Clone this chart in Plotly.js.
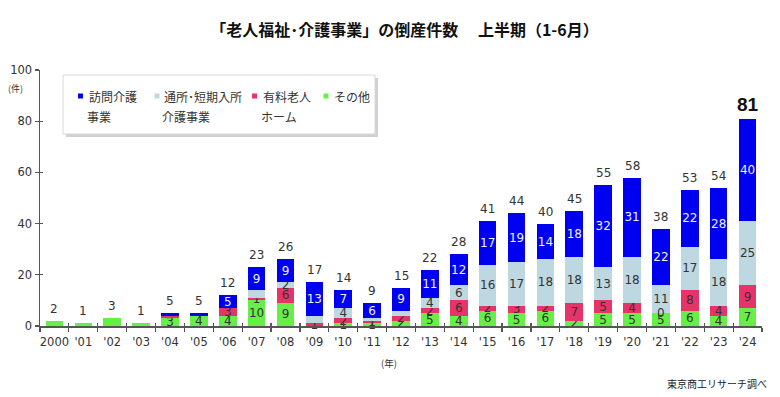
<!DOCTYPE html>
<html><head><meta charset="utf-8">
<script src="https://cdn.plot.ly/plotly-3.0.1.min.js"></script>
<style>html,body{margin:0;padding:0;background:#fff}#chart{width:780px;height:397px}</style>
</head><body><div id="chart"></div>
<script>
// ---- data ----
const years = ['2000',"'01","'02","'03","'04","'05","'06","'07","'08","'09","'10","'11","'12","'13","'14","'15","'16","'17","'18","'19","'20","'21","'22","'23","'24"];
const homeCare    = [0,0,0,0,1,1,5,9,9,13,7,6,9,11,12,17,19,14,18,32,31,22,22,28,40]; // 訪問介護事業
const dayCare     = [0,0,0,0,0,0,0,3,2,3,4,1,2,4,6,16,17,18,18,13,18,11,17,18,25]; // 通所・短期入所介護事業
const nursingHome = [0,0,0,0,1,0,3,1,6,1,2,1,2,2,6,2,3,2,7,5,4,0,8,4,9];            // 有料老人ホーム
const others      = [2,1,3,1,3,4,4,10,9,0,1,1,2,5,4,6,5,6,2,5,5,5,6,4,7];           // その他
const seriesNames = ['訪問介護<br>事業','通所･短期入所<br>介護事業','有料老人<br>ホーム','その他'];
// segment labels that are not printed in the original
const homeCareHide = [4,5];
const dayCareHide = [7,9,11,12];
const nursingHide = [4];
const othersHide = [0,1,2,3];
const nursingZeroShown = [21];

// ---- geometry helpers (paper coords from pixels) ----
const M = {l:40, r:18, t:70, b:71};
const W = 780 - M.l - M.r, H = 397 - M.t - M.b;
const PX = p => (p - M.l) / W;
const PY = p => (397 - M.b - p) / H;

function labels(vals, hide){
  return vals.map((v,i) => (v > 0 && hide.indexOf(i) < 0) ? String(v) : '');
}

const colors = {home:'#0000f0', day:'#bed8e2', nurse:'#e6336a', other:'#68ee48'};
const dark = '#333333';
const numFont = 'DejaVu Sans, Verdana, sans-serif';
const jpFont = 'Noto Sans CJK JP, sans-serif';

function barTrace(vals, name, color, hide, txtColor){
  return {
    type:'bar', x:years, y:vals, name:name,
    marker:{color:color, line:{width:0}},
    text:labels(vals, hide), textposition:'inside', insidetextanchor:'middle',
    textangle:0, textfont:{family:numFont, size:12, color:txtColor},
    hoverinfo:'skip', showlegend:false, cliponaxis:false
  };
}

const traces = [
  barTrace(others, seriesNames[3], colors.other, othersHide, dark),
  barTrace(nursingHome, seriesNames[2], colors.nurse, nursingHide, dark),
  barTrace(dayCare, seriesNames[1], colors.day, dayCareHide, dark),
  barTrace(homeCare, seriesNames[0], colors.home, homeCareHide, '#eef0ff'),
  // invisible trace to activate overlay axes (inner tick marks)
  {type:'scatter', x:[0], y:[0], xaxis:'x2', yaxis:'y2', mode:'markers',
   marker:{opacity:0}, hoverinfo:'skip', showlegend:false}
];

const totals = years.map((_,i) => homeCare[i] + dayCare[i] + nursingHome[i] + others[i]);
const last = years.length - 1;

const annotations = [];
totals.forEach((t,i) => {
  annotations.push({
    x:i, y:t, xref:'x', yref:'y', text:String(t), showarrow:false,
    yanchor:'bottom', yshift: i === last ? 2 : 3,
    font: i === last ? {family:'Liberation Sans, Arial, sans-serif', size:19, color:'#111', weight:'bold'}
                     : {family:numFont, size:12, color:dark}
  });
});
// zero-valued segment that carries a label in the original
nursingZeroShown.forEach(i => {
  annotations.push({x:i, y:others[i] + nursingHome[i], xref:'x', yref:'y', text:String(nursingHome[i]),
    showarrow:false, yanchor:'middle', font:{family:numFont, size:12, color:dark}});
});

// axis unit labels and source
annotations.push({xref:'paper', yref:'paper', x:PX(15), y:PY(88), text:'(件)', showarrow:false,
  xanchor:'center', yanchor:'middle', font:{family:jpFont, size:9, color:dark}});
annotations.push({xref:'paper', yref:'paper', x:PX(389), y:PY(363), text:'(年)', showarrow:false,
  xanchor:'center', yanchor:'middle', font:{family:jpFont, size:9.5, color:dark}});
annotations.push({xref:'paper', yref:'paper', x:PX(769), y:PY(383), text:'東京商工リサーチ調べ', showarrow:false,
  xanchor:'right', yanchor:'middle', font:{family:jpFont, size:10, color:'#222'}});

// custom legend box
const shapes = [
  {type:'rect', xref:'paper', yref:'paper', x0:PX(66), x1:PX(378), y0:PY(78), y1:PY(137),
   fillcolor:'rgba(0,0,0,0.18)', line:{width:0}, layer:'above'},
  {type:'rect', xref:'paper', yref:'paper', x0:PX(63), x1:PX(375), y0:PY(75), y1:PY(134),
   fillcolor:'#ffffff', line:{color:'#d8d8d8', width:1}, layer:'above'}
];
const legendItems = [
  {color:colors.home, mx:80.5, tx:87, lines:seriesNames[0].split('<br>')},
  {color:colors.day, mx:157, tx:162, lines:seriesNames[1].split('<br>')},
  {color:colors.nurse, mx:254.5, tx:261, lines:seriesNames[2].split('<br>')},
  {color:colors.other, mx:326, tx:332, lines:seriesNames[3].split('<br>')}
];
legendItems.forEach(it => {
  shapes.push({type:'rect', xref:'paper', yref:'paper', x0:PX(it.mx-2.5), x1:PX(it.mx+2.5), y0:PY(98.5), y1:PY(93.5),
    fillcolor:it.color, line:{width:0}, layer:'above'});
  it.lines.forEach((ln,k) => {
    annotations.push({xref:'paper', yref:'paper', x:PX(k === 0 ? it.tx : it.tx - 2), y:PY(96 + 20*k), text:ln,
      showarrow:false, xanchor:'left', yanchor:'middle', font:{family:jpFont, size:12, color:dark}});
  });
});

const axisColor = '#555555';
const layout = {
  width:780, height:397, margin:M,
  paper_bgcolor:'#ffffff', plot_bgcolor:'#ffffff',
  barmode:'stack', bargap:0.39,
  showlegend:false, hovermode:false,
  uniformtext:{mode:'show', minsize:12},
  title:{text:'「老人福祉･介護事業」の倒産件数　 上半期（1-6月）', xref:'container', yref:'container',
    x:404.5/780, y:1 - 30/397, xanchor:'center', yanchor:'middle',
    font:{family:jpFont, size:16, color:'#111', weight:'bold'}},
  xaxis:{type:'category', range:[-0.5, 24.5], showline:true, linecolor:axisColor, linewidth:1.5,
    ticks:'outside', tickson:'boundaries', ticklen:4, tickwidth:1.2, tickcolor:axisColor, tickangle:0,
    ticklabelstandoff:5,
    showgrid:false, zeroline:false, tickfont:{family:numFont, size:11.5, color:dark}, fixedrange:true},
  yaxis:{range:[0,100], tickvals:[0,20,40,60,80,100], showline:true, linecolor:axisColor, linewidth:1.5,
    ticks:'outside', ticklen:4, tickwidth:1.2, tickcolor:axisColor, showgrid:false, zeroline:false,
    tickfont:{family:numFont, size:11.5, color:dark}, fixedrange:true},
  xaxis2:{overlaying:'x', anchor:'y2', range:[-0.5, 24.5], tick0:0.5, dtick:1, ticks:'inside', ticklen:3,
    tickwidth:1.2, tickcolor:axisColor, showticklabels:false, showgrid:false, zeroline:false, showline:false, fixedrange:true},
  yaxis2:{overlaying:'y', anchor:'x2', range:[0,100], tickvals:[0,20,40,60,80,100], ticks:'inside', ticklen:3,
    tickwidth:1.2, tickcolor:axisColor, showticklabels:false, showgrid:false, zeroline:false, showline:false, fixedrange:true},
  annotations:annotations, shapes:shapes
};

Plotly.newPlot('chart', traces, layout, {displayModeBar:false, staticPlot:true});
</script>
</body></html>
